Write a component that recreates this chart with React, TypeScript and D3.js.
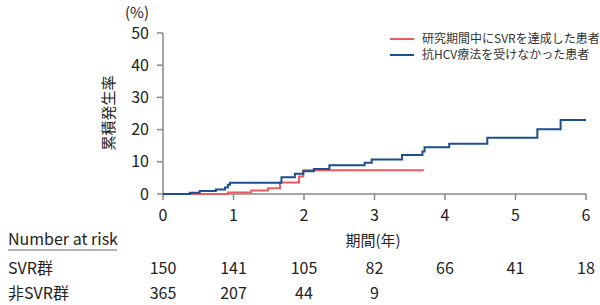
import * as d3 from "d3";

const years = [0, 1, 2, 3, 4, 5, 6];
const yTicks = [0, 10, 20, 30, 40, 50];

// 抗HCV療法を受けなかった患者
const noTxTimes = [0, 0.38, 0.52, 0.75, 0.88, 0.92, 0.95, 1.68, 1.87, 1.99, 2.14, 2.36, 2.86, 2.96, 3.39, 3.68, 3.71, 4.06, 4.6, 5.31, 5.64, 6.0];
const noTxVals = [0, 0.4, 0.9, 1.4, 2.0, 2.9, 3.5, 5.2, 6.3, 7.1, 7.8, 8.9, 9.7, 10.7, 12.1, 13.2, 14.5, 15.6, 17.5, 20.1, 23.0, 23.0];

// 研究期間中にSVRを達成した患者
const svrTimes = [0, 0.92, 1.25, 1.49, 1.66, 1.93, 1.99, 3.7];
const svrVals = [0, 0.5, 1.1, 1.8, 3.6, 5.4, 7.4, 7.4];

const riskSvr = [150, 141, 105, 82, 66, 41, 18];
const riskNonSvr = [365, 207, 44, 9];

const legendLabels = ["研究期間中にSVRを達成した患者", "抗HCV療法を受けなかった患者"];
const RED = "#ec5b60";
const BLUE = "#1b4f8e";

export default function App() {
  const x = d3.scaleLinear().domain([0, 6]).range([163, 586]);
  const y = d3.scaleLinear().domain([0, 50]).range([194, 33]);
  const font = "'Noto Sans CJK JP', 'Noto Sans', sans-serif";

  const line = d3
    .line<[number, number]>()
    .x((d) => x(d[0]))
    .y((d) => y(d[1]))
    .curve(d3.curveStepAfter);

  const blue = line(noTxTimes.map((t, i) => [t, noTxVals[i]]) as [number, number][]);
  const red = line(svrTimes.map((t, i) => [t, svrVals[i]]) as [number, number][]);

  return (
    <svg
      width={600}
      height={305}
      style={{ position: "absolute", left: 0, top: 0, background: "#fff" }}
      fontFamily={font}
    >
      {/* axes */}
      <line x1={x(0)} x2={x(0)} y1={y(50)} y2={y(0)} stroke="#888" strokeWidth={1.5} />
      <line x1={x(0)} x2={x(6)} y1={y(0)} y2={y(0)} stroke="#888" strokeWidth={1.5} />
      {yTicks.map((t) => (
        <g key={t}>
          <line x1={x(0) - 6} x2={x(0)} y1={y(t)} y2={y(t)} stroke="#888" strokeWidth={1.5} />
          <text x={x(0) - 14} y={y(t)} dy="0.35em" textAnchor="end" fontSize={16} fill="#222">
            {t}
          </text>
        </g>
      ))}
      {years.map((t) => (
        <g key={t}>
          <line x1={x(t)} x2={x(t)} y1={y(0)} y2={y(0) + 6} stroke="#888" strokeWidth={1.5} />
          <text x={x(t)} y={221} textAnchor="middle" fontSize={16} fill="#222">
            {t}
          </text>
        </g>
      ))}
      <text x={137} y={18} textAnchor="middle" fontSize={15} fill="#222">
        (%)
      </text>
      <text
        transform={`translate(114,113) rotate(-90)`}
        textAnchor="middle"
        fontSize={15}
        fill="#222"
      >
        累積発生率
      </text>

      {/* curves */}
      <path d={red ?? ""} fill="none" stroke={RED} strokeWidth={2} />
      <path d={blue ?? ""} fill="none" stroke={BLUE} strokeWidth={2} />

      {/* legend */}
      {legendLabels.map((l, i) => (
        <g key={l} transform={`translate(390,${39 + i * 16})`}>
          <line x1={0} x2={24} y1={0} y2={0} stroke={i === 0 ? RED : BLUE} strokeWidth={2} />
          <text x={32} y={0} dy="0.35em" fontSize={12} fill="#333">
            {l}
          </text>
        </g>
      ))}

      {/* number at risk */}
      <text x={373} y={246} textAnchor="middle" fontSize={15} fill="#222">
        期間(年)
      </text>
      <text x={8} y={245} fontSize={16} fill="#222">
        Number at risk
      </text>
      <line x1={8} x2={117} y1={250} y2={250} stroke="#666" strokeWidth={1.2} />
      <text x={8} y={274} fontSize={16} fill="#222">
        SVR群
      </text>
      <text x={8} y={299} fontSize={16} fill="#222">
        非SVR群
      </text>
      {riskSvr.map((n, i) => (
        <text key={"s" + i} x={x(years[i])} y={274} textAnchor="middle" fontSize={16} fill="#222">
          {n}
        </text>
      ))}
      {riskNonSvr.map((n, i) => (
        <text key={"n" + i} x={x(years[i])} y={299} textAnchor="middle" fontSize={16} fill="#222">
          {n}
        </text>
      ))}
    </svg>
  );
}
